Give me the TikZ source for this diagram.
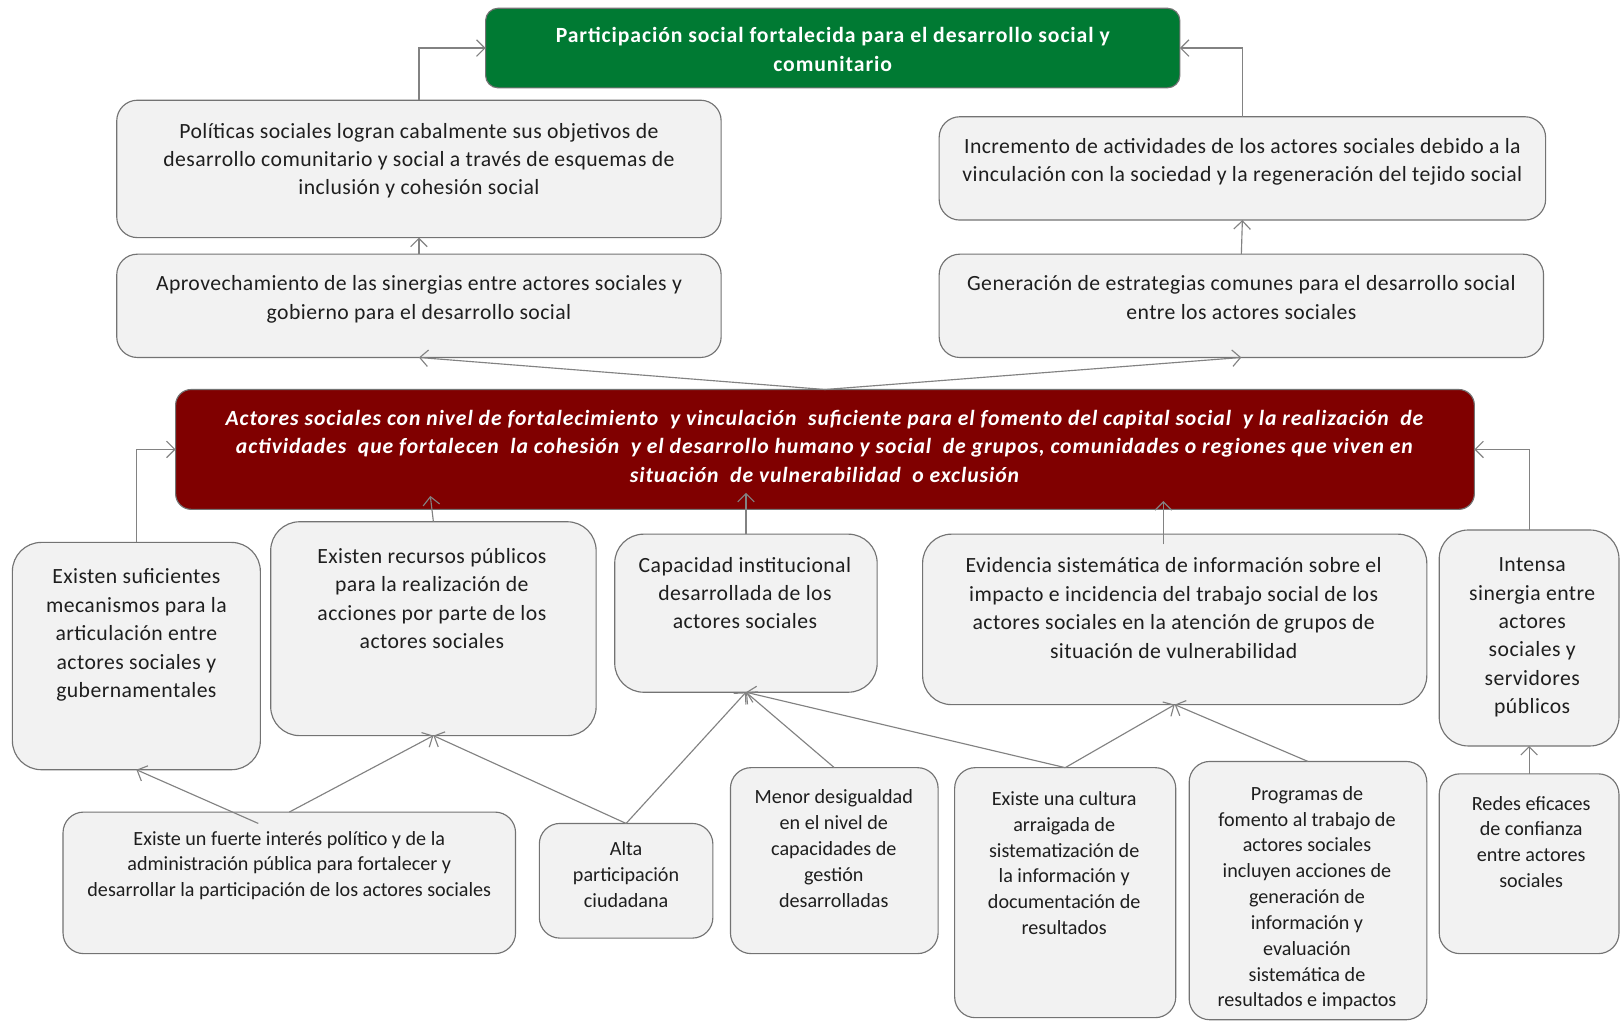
\documentclass[tikz,border=0pt]{standalone}
\usepackage{fontspec}
\setmainfont{Carlito}
\newfontfamily\bodyf[LetterSpace=2]{Carlito}
\newfontfamily\headf[LetterSpace=4.2]{Carlito}
\usetikzlibrary{arrows.meta,calc}
\definecolor{boxfill}{RGB}{242,242,242}
\definecolor{boxline}{RGB}{115,115,115}
\definecolor{linegray}{RGB}{130,130,130}
\definecolor{darkred}{RGB}{128,0,0}
\definecolor{darkgreen}{RGB}{0,122,51}
\definecolor{txtcol}{RGB}{30,30,30}
\begin{document}
\begin{tikzpicture}[x=1pt,y=-1pt,
  boxstyle/.style={draw=boxline, line width=1.1pt, fill=boxfill, rounded corners=20pt,
    anchor=north west, inner sep=0pt, outer sep=0pt},
  bigr/.style={rounded corners=28pt},
  txt/.style={align=center, inner sep=0pt, text=txtcol,
    font=\bodyf\fontsize{21}{27.5}\selectfont, execute at begin node=\strut, execute at end node=\strut},
  small/.style={font=\fontsize{19.5}{25}\selectfont},
  conn/.style={draw=linegray, line width=1.1pt, -{Straight Barb[length=8pt,width=16pt,line width=1.1pt]}}
]
\useasboundingbox (0,0) rectangle (1568,988);
\fill[white] (0,0) rectangle (1568,988);

% top level
\node[boxstyle, fill=darkgreen, rounded corners=12pt, minimum width=672pt, minimum height=77pt] (g) at (470,8) {};
\node[txt, text=white, font=\headf\fontsize{21}{27.5}\selectfont\bfseries] (tg) at (806,52) {Participación social fortalecida para el desarrollo social y\\comunitario};

\node[boxstyle, minimum width=585pt, minimum height=133pt] (p1) at (113,97) {};
\node[txt] (tp1) at (405.5,158) {Políticas sociales logran cabalmente sus objetivos de\\desarrollo comunitario y social a través de esquemas de\\inclusión y cohesión social};

\node[boxstyle, minimum width=587pt, minimum height=100pt] (p2) at (909,113) {};
\node[txt] (tp2) at (1202.5,159) {Incremento de actividades de los actores sociales debido a la\\vinculación con la sociedad y la regeneración del tejido social};

\node[boxstyle, minimum width=585pt, minimum height=100pt] (a1) at (113,246) {};
\node[txt] (ta1) at (405.5,292) {Aprovechamiento de las sinergias entre actores sociales y\\gobierno para el desarrollo social};

\node[boxstyle, minimum width=585pt, minimum height=100pt] (a2) at (909,246) {};
\node[txt] (ta2) at (1201.5,292) {Generación de estrategias comunes para el desarrollo social\\entre los actores sociales};

\node[boxstyle, fill=darkred, rounded corners=15pt, minimum width=1257pt, minimum height=116pt] (r) at (170,377) {};
\node[txt, text=white, font=\headf\fontsize{21}{27.5}\selectfont\bfseries\itshape] (tr) at (798,436) {Actores sociales con nivel de fortalecimiento\ \ y vinculación\ \ suficiente para el fomento del capital social\ \ y la realización\ \ de\\actividades\ \ que fortalecen\ \ la cohesión\ \ y el desarrollo humano y social\ \ de grupos, comunidades o regiones que viven en\\situación\ \ de vulnerabilidad\ \ o exclusión};

% second level
\node[boxstyle, bigr, minimum width=240pt, minimum height=220pt] (b1) at (12,525) {};
\node[txt] (tb1) at (132,617) {Existen suficientes\\mecanismos para la\\articulación entre\\actores sociales y\\gubernamentales};

\node[boxstyle, bigr, minimum width=315pt, minimum height=207pt] (b2) at (262,505) {};
\node[txt] (tb2) at (418,583.5) {Existen recursos públicos\\para la realización de\\acciones por parte de los\\actores sociales};

\node[boxstyle, bigr, minimum width=254pt, minimum height=153pt] (b3) at (595,517) {};
\node[txt] (tb3) at (721,578) {Capacidad institucional\\desarrollada de los\\actores sociales};

\node[boxstyle, bigr, minimum width=488pt, minimum height=165pt] (b4) at (893,517) {};
\node[txt] (tb4) at (1136,592.5) {Evidencia sistemática de información sobre el\\impacto e incidencia del trabajo social de los\\actores sociales en la atención de grupos de\\situación de vulnerabilidad};

\node[boxstyle, bigr, minimum width=174pt, minimum height=209pt] (b5) at (1393,513) {};
\node[txt] (tb5) at (1483,619.5) {Intensa\\sinergia entre\\actores\\sociales y\\servidores\\públicos};

% third level
\node[boxstyle, minimum width=438pt, minimum height=137pt] (c1) at (61,786) {};
\node[txt, small] (tc1) at (280,840) {Existe un fuerte interés político y de la\\administración pública para fortalecer y\\desarrollar la participación de los actores sociales};

\node[boxstyle, minimum width=168pt, minimum height=111pt] (c2) at (522,797) {};
\node[txt, small] (tc2) at (606,850) {Alta\\participación\\ciudadana};

\node[boxstyle, minimum width=201pt, minimum height=180pt] (c3) at (707,743) {};
\node[txt, small] (tc3) at (807,825) {Menor desigualdad\\en el nivel de\\capacidades de\\gestión\\desarrolladas};

\node[boxstyle, minimum width=214pt, minimum height=242pt] (c4) at (924,743) {};
\node[txt, small] (tc4) at (1030,839) {Existe una cultura\\arraigada de\\sistematización de\\la información y\\documentación de\\resultados};

\node[boxstyle, minimum width=230pt, minimum height=250pt] (c5) at (1151,737) {};
\node[txt, small] (tc5) at (1265,871.5) {Programas de\\fomento al trabajo de\\actores sociales\\incluyen acciones de\\generación de\\información y\\evaluación\\sistemática de\\resultados e impactos};

\node[boxstyle, minimum width=174pt, minimum height=174pt] (c6) at (1393,749) {};
\node[txt, small] (tc6) at (1482,818.5) {Redes eficaces\\de confianza\\entre actores\\sociales};

% connectors to top
\draw[conn] (p1.north) |- (g.west);
\draw[conn] (p2.north) |- (g.east);
\draw[conn] (a1.north) -- (p1.south);
\draw[conn] (a2.north) -- (p2.south);
\draw[conn] (r.north) -- (a1.south);
\draw[conn] (r.north) -- (a2.south);

% connectors to red
\draw[conn] (b1.north) |- (r.west);
\draw[conn] (b5.north) |- (r.east);
\draw[conn] (b2.north) -- ($(b2.north |- r.south)+(-3,-13)$);
\draw[conn] (b3.north) -- ($(b3.north |- r.south)+(0,-16)$);
\draw[conn] ($(b4.north)+(-11,10)$) -- ($(b4.north |- r.south)+(-11,-8)$);

% connectors from third level
\draw[conn] ($(c1.north)+(-30,11)$) -- (b1.south);
\draw[conn] (c1.north) -- (b2.south);
\draw[conn] (c2.north) -- (b2.south);
\draw[conn] (c2.north) -- (b3.south);
\draw[conn] (c3.north) -- (b3.south);
\draw[conn] (c4.north) -- (b3.south);
\draw[conn] (c4.north) -- (b4.south);
\draw[conn] (c5.north) -- (b4.south);
\draw[conn] (c6.north) -- (b5.south);
\end{tikzpicture}
\end{document}
